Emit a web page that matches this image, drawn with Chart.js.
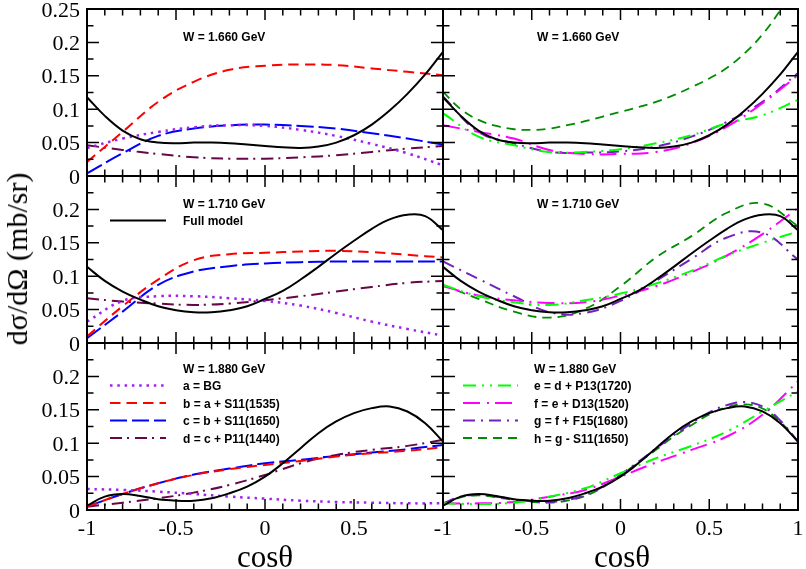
<!DOCTYPE html>
<html>
<head>
<meta charset="utf-8">
<script src="https://cdn.jsdelivr.net/npm/chart.js@4.4.1/dist/chart.umd.min.js"></script>
<style>
  body { margin: 0; background: #fff; width: 806px; height: 569px; overflow: hidden; position: relative; }
  canvas { position: absolute; left: 0; top: 0; }
  .xtitle { position: absolute; top: 541px; font: 31px/1 "Liberation Serif", serif; transform: translateX(-50%); white-space: nowrap; }
  #ytitle { position: absolute; left: 17px; top: 259px; font: 30px/1 "Liberation Serif", serif; white-space: nowrap;
            transform: translate(-50%, -50%) rotate(-90deg); }
</style>
</head>
<body>
<canvas id="p00" width="806" height="569"></canvas>
<canvas id="p01" width="806" height="569"></canvas>
<canvas id="p10" width="806" height="569"></canvas>
<canvas id="p11" width="806" height="569"></canvas>
<canvas id="p20" width="806" height="569"></canvas>
<canvas id="p21" width="806" height="569"></canvas>
<div id="ytitle">dσ/dΩ (mb/sr)</div>
<div class="xtitle" style="left:265px">cosθ</div>
<div class="xtitle" style="left:622px">cosθ</div>
<script>
// cos(theta) grids the curves were read on
const cosCoarse = [-1, -0.8, -0.6, -0.4, -0.2, 0, 0.2, 0.4, 0.6, 0.8, 1];
const cosFine = [-1, -0.9, -0.8, -0.7, -0.6, -0.5, -0.4, -0.3, -0.2, -0.1, 0, 0.1, 0.2, 0.3, 0.4, 0.5, 0.6, 0.7, 0.8, 0.9, 1];

const energies = ['1.660', '1.710', '1.880'];

// W = 1.660 GeV
const full1660 = [0.118, 0.090, 0.068, 0.055, 0.050, 0.049, 0.050, 0.050, 0.049, 0.047, 0.045, 0.043, 0.042, 0.044, 0.050, 0.061, 0.077, 0.098, 0.123, 0.152, 0.186];
const a1660 = [0.042, 0.056, 0.066, 0.073, 0.076, 0.075, 0.069, 0.060, 0.048, 0.034, 0.016];
const b1660 = [0.021, 0.066, 0.111, 0.141, 0.159, 0.165, 0.167, 0.166, 0.161, 0.156, 0.151];
const c1660 = [0.004, 0.034, 0.060, 0.071, 0.076, 0.077, 0.075, 0.071, 0.064, 0.056, 0.047];
const d1660 = [0.046, 0.039, 0.033, 0.028, 0.026, 0.026, 0.028, 0.031, 0.036, 0.041, 0.045];
const e1660 = [0.094, 0.059, 0.046, 0.036, 0.036, 0.040, 0.049, 0.061, 0.079, 0.091, 0.114];
const f1660 = [0.076, 0.066, 0.056, 0.039, 0.033, 0.033, 0.036, 0.049, 0.074, 0.109, 0.151];
const g1660 = [0.119, 0.066, 0.049, 0.036, 0.035, 0.037, 0.044, 0.059, 0.081, 0.111, 0.154];
const h1660 = [0.126, 0.100, 0.084, 0.075, 0.070, 0.069, 0.071, 0.076, 0.082, 0.089, 0.096, 0.103, 0.111, 0.121, 0.133, 0.146, 0.162, 0.184, 0.212, 0.248, 0.290];

// W = 1.710 GeV
const full1710 = [0.114, 0.093, 0.077, 0.065, 0.055, 0.049, 0.046, 0.046, 0.049, 0.055, 0.066, 0.078, 0.095, 0.114, 0.134, 0.153, 0.171, 0.185, 0.192, 0.190, 0.169];
const a1710 = [0.032, 0.063, 0.070, 0.070, 0.067, 0.063, 0.056, 0.045, 0.032, 0.021, 0.011];
const b1710 = [0.010, 0.055, 0.095, 0.124, 0.133, 0.135, 0.137, 0.138, 0.136, 0.132, 0.128];
const c1710 = [0.007, 0.047, 0.087, 0.107, 0.115, 0.119, 0.121, 0.122, 0.122, 0.122, 0.122];
const d1710 = [0.067, 0.062, 0.059, 0.057, 0.059, 0.064, 0.070, 0.077, 0.084, 0.090, 0.093];
const e1710 = [0.087, 0.070, 0.061, 0.057, 0.064, 0.074, 0.089, 0.108, 0.131, 0.150, 0.167];
const f1710 = [0.085, 0.071, 0.064, 0.060, 0.061, 0.071, 0.085, 0.106, 0.131, 0.163, 0.202];
const g1710 = [0.122, 0.096, 0.070, 0.046, 0.045, 0.063, 0.093, 0.126, 0.158, 0.165, 0.125];
const h1710 = [0.087, 0.066, 0.047, 0.038, 0.051, 0.085, 0.128, 0.160, 0.195, 0.209, 0.175];

// W = 1.880 GeV
const full1880 = [0.0065, 0.020, 0.024, 0.021, 0.016, 0.014, 0.014, 0.0175, 0.025, 0.035, 0.050, 0.070, 0.0925, 0.115, 0.1325, 0.145, 0.1525, 0.155, 0.1475, 0.130, 0.1025];
const a1880 = [0.0315, 0.030, 0.0275, 0.024, 0.020, 0.017, 0.014, 0.012, 0.011, 0.010, 0.010];
const b1880 = [0.005, 0.024, 0.040, 0.0525, 0.061, 0.0675, 0.0735, 0.080, 0.085, 0.0885, 0.094];
const c1880 = [0.005, 0.024, 0.040, 0.053, 0.062, 0.070, 0.075, 0.081, 0.086, 0.091, 0.0975];
const d1880 = [0.005, 0.011, 0.0175, 0.026, 0.0375, 0.0525, 0.070, 0.0825, 0.090, 0.096, 0.105];
const e1880 = [0.010, 0.009, 0.011, 0.020, 0.0325, 0.055, 0.0775, 0.096, 0.1175, 0.1475, 0.1775];
const f1880 = [0.010, 0.010, 0.012, 0.020, 0.030, 0.050, 0.071, 0.090, 0.110, 0.1425, 0.1925];
const g1880 = [0.010, 0.020, 0.0225, 0.020, 0.016, 0.013, 0.012, 0.015, 0.022, 0.035, 0.053, 0.072, 0.092, 0.112, 0.130, 0.146, 0.157, 0.1615, 0.155, 0.134, 0.1025];
const h1880 = [0.008, 0.019, 0.022, 0.019, 0.015, 0.012, 0.011, 0.014, 0.021, 0.034, 0.052, 0.071, 0.090, 0.110, 0.127, 0.143, 0.154, 0.158, 0.152, 0.132, 0.1025];

const seriesNames = ['Full model', 'a = BG', 'b = a + S11(1535)', 'c = b + S11(1650)', 'd = c + P11(1440)',
                     'e = d + P13(1720)', 'f = e + D13(1520)', 'g = f + F15(1680)', 'h = g - S11(1650)'];

// tick labels
const yTickLabelsTop = ['0', '0.05', '0.1', '0.15', '0.2', '0.25'];
const yTickLabels = ['0', '0.05', '0.1', '0.15', '0.2'];
const xTickLabelsLeft = ['-1', '-0.5', '0', '0.5'];
const xTickLabelsRight = ['-1', '-0.5', '0', '0.5', '1'];

// line styles
const styles = {
  full: { color: '#000000', dash: [], width: 2 },
  a: { color: '#a020f0', dash: [2.5, 4.8], width: 2.5 },
  b: { color: '#ff0000', dash: [10.5, 6], width: 2 },
  c: { color: '#0000ff', dash: [17, 5], width: 2 },
  d: { color: '#670748', dash: [12, 5, 2, 6], width: 2 },
  e: { color: '#00ff00', dash: [13, 6, 2, 6, 2, 6], width: 2 },
  f: { color: '#ff00ff', dash: [17, 7, 2, 6], width: 2 },
  g: { color: '#7221bc', dash: [12, 6, 2, 6], width: 2 },
  h: { color: '#008b00', dash: [9, 6], width: 1.8 }
};

const cols = [[87, 443], [443, 798]];
const rows = [[9, 176], [176, 343], [343, 510]];

function line(key, label, xs, ys) {
  const s = styles[key];
  return {
    label: label,
    data: xs.map((x, i) => ({ x: x, y: ys[i] })),
    borderColor: s.color,
    borderWidth: s.width,
    borderDash: s.dash,
    borderCapStyle: 'butt',
    pointRadius: 0,
    fill: false,
    tension: 0.4
  };
}

const panelInfo = {};

const decor = {
  id: 'decor',
  afterDatasetsDraw(chart) {
    const info = panelInfo[chart.canvas.id];
    const ctx = chart.ctx;
    const area = chart.chartArea;
    const xs = chart.scales.x, ys = chart.scales.y;
    ctx.save();
    ctx.setLineDash([]);
    ctx.strokeStyle = '#000';
    // inward ticks on all four sides
    ctx.lineWidth = 1.5;
    ctx.beginPath();
    for (let i = 0; i <= 20; i++) {
      const px = xs.getPixelForValue(-1 + i * 0.1);
      const len = i % 5 === 0 ? 11 : 6.5;
      ctx.moveTo(px, area.bottom); ctx.lineTo(px, area.bottom - len);
      ctx.moveTo(px, area.top); ctx.lineTo(px, area.top + len);
    }
    for (let i = 0; i <= 10; i++) {
      const py = ys.getPixelForValue(i * 0.025);
      const len = i % 2 === 0 ? 12 : 6.5;
      ctx.moveTo(area.left, py); ctx.lineTo(area.left + len, py);
      ctx.moveTo(area.right, py); ctx.lineTo(area.right - len, py);
    }
    ctx.stroke();
    ctx.lineWidth = 2;
    ctx.strokeRect(area.left, area.top, area.right - area.left, area.bottom - area.top);

    // tick labels
    ctx.fillStyle = '#000';
    ctx.font = '22px "Liberation Serif"';
    ctx.textBaseline = 'alphabetic';
    if (info.col === 0) {
      ctx.textAlign = 'right';
      const labels = info.row === 0 ? yTickLabelsTop : yTickLabels;
      labels.forEach(t => ctx.fillText(t, area.left - 7, ys.getPixelForValue(parseFloat(t)) + 7.5));
    }
    if (info.row === 2) {
      ctx.textAlign = 'center';
      const labels = info.col === 0 ? xTickLabelsLeft : xTickLabelsRight;
      labels.forEach(t => ctx.fillText(t, xs.getPixelForValue(parseFloat(t)), 535));
    }

    // energy label and legend
    ctx.font = 'bold 12px "Liberation Sans"';
    ctx.textAlign = 'left';
    const tx = info.textX;
    ctx.fillText('W = ' + energies[info.row] + ' GeV', tx, area.top + info.wY);
    info.legend.forEach((k, j) => {
      const ds = chart.data.datasets[k];
      const by = info.legY + j * 17.5;
      ctx.beginPath();
      ctx.setLineDash(ds.borderDash);
      ctx.strokeStyle = ds.borderColor;
      ctx.lineWidth = ds.borderWidth;
      ctx.moveTo(info.legX[0], by - 4.5);
      ctx.lineTo(info.legX[1], by - 4.5);
      ctx.stroke();
      ctx.fillStyle = '#000';
      ctx.fillText(ds.label, tx, by);
    });
    ctx.restore();
  }
};

function makePanel(row, col, datasets, extra) {
  const id = 'p' + row + col;
  panelInfo[id] = Object.assign({ row: row, col: col, textX: col === 0 ? 183 : 537, wY: 32, legend: [], legY: 0, legX: [0, 0] }, extra || {});
  new Chart(document.getElementById(id), {
    type: 'line',
    data: { datasets: datasets },
    options: {
      responsive: false,
      animation: false,
      devicePixelRatio: 1,
      layout: { padding: { left: cols[col][0], right: 806 - cols[col][1], top: rows[row][0], bottom: 569 - rows[row][1] } },
      scales: {
        x: { type: 'linear', min: -1, max: 1, display: false },
        y: { type: 'linear', min: 0, max: 0.25, display: false }
      },
      plugins: { legend: { display: false }, tooltip: { enabled: false } }
    },
    plugins: [decor]
  });
}

// left column: a..d + full model
makePanel(0, 0, [
  line('full', seriesNames[0], cosFine, full1660),
  line('a', seriesNames[1], cosCoarse, a1660),
  line('b', seriesNames[2], cosCoarse, b1660),
  line('c', seriesNames[3], cosCoarse, c1660),
  line('d', seriesNames[4], cosCoarse, d1660)
]);
makePanel(1, 0, [
  line('full', seriesNames[0], cosFine, full1710),
  line('a', seriesNames[1], cosCoarse, a1710),
  line('b', seriesNames[2], cosCoarse, b1710),
  line('c', seriesNames[3], cosCoarse, c1710),
  line('d', seriesNames[4], cosCoarse, d1710)
], { legend: [0], legY: 225, legX: [110, 166] });
makePanel(2, 0, [
  line('full', seriesNames[0], cosFine, full1880),
  line('a', seriesNames[1], cosCoarse, a1880),
  line('b', seriesNames[2], cosCoarse, b1880),
  line('c', seriesNames[3], cosCoarse, c1880),
  line('d', seriesNames[4], cosCoarse, d1880)
], { wY: 30, legend: [1, 2, 3, 4], legY: 390, legX: [110, 166] });

// right column: e..h + full model
makePanel(0, 1, [
  line('full', seriesNames[0], cosFine, full1660),
  line('e', seriesNames[5], cosCoarse, e1660),
  line('f', seriesNames[6], cosCoarse, f1660),
  line('g', seriesNames[7], cosCoarse, g1660),
  line('h', seriesNames[8], cosFine, h1660)
]);
makePanel(1, 1, [
  line('full', seriesNames[0], cosFine, full1710),
  line('e', seriesNames[5], cosCoarse, e1710),
  line('f', seriesNames[6], cosCoarse, f1710),
  line('g', seriesNames[7], cosCoarse, g1710),
  line('h', seriesNames[8], cosCoarse, h1710)
]);
makePanel(2, 1, [
  line('full', seriesNames[0], cosFine, full1880),
  line('e', seriesNames[5], cosCoarse, e1880),
  line('f', seriesNames[6], cosCoarse, f1880),
  line('g', seriesNames[7], cosFine, g1880),
  line('h', seriesNames[8], cosFine, h1880)
], { textX: 534, wY: 30, legend: [1, 2, 3, 4], legY: 390, legX: [463, 518] });
</script>
</body>
</html>
